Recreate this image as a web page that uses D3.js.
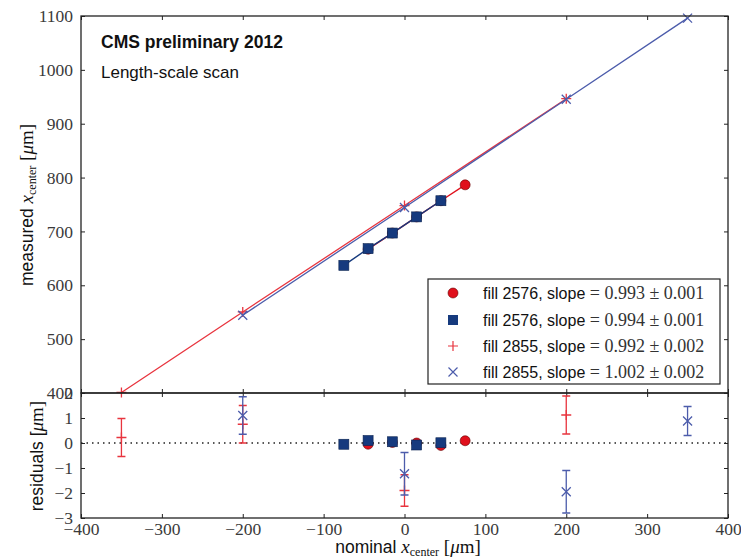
<!DOCTYPE html>
<html>
<head>
<meta charset="utf-8">
<script src="https://cdn.jsdelivr.net/npm/d3@7"></script>
<style>
  html, body { margin: 0; padding: 0; background: #fff; }
  svg { display: block; }
</style>
</head>
<body>
<svg id="chart" width="741" height="559"></svg>
<script>
// Fill 2576: circles and squares
const circNominal = [-45, -15, 15, 45, 75];
const circMeasured = [667, 697, 727, 757, 786.5];
const circResidual = [-0.05, 0.02, 0.0, -0.1, 0.09];

const sqNominal = [-75, -45, -15, 15, 45];
const sqMeasured = [637, 668, 697, 727, 757];
const sqResidual = [-0.05, 0.1, 0.05, -0.08, 0.01];

// Fill 2855: plus (red) and cross (blue) markers with residual errors
const plusNominal = [-350, -200, 0, 200];
const plusMeasured = [401, 550.5, 748, 946.5];
const plusResidual = [0.22, 0.75, -1.9, 1.12];
const plusError = [0.76, 0.75, 0.63, 0.76];

const crossNominal = [-200, 0, 200, 350];
const crossMeasured = [544.5, 744.5, 945.5, 1096];
const crossResidual = [1.1, -1.23, -1.95, 0.88];
const crossError = [0.75, 0.85, 0.85, 0.58];

const xTicks = [-400, -300, -200, -100, 0, 100, 200, 300, 400];
const yMainTicks = [400, 500, 600, 700, 800, 900, 1000, 1100];
const yResTicks = [-3, -2, -1, 0, 1, 2];

const legendLabels = ["fill 2576, slope ", "fill 2576, slope ", "fill 2855, slope ", "fill 2855, slope "];
const legendSlopes = ["= 0.993 \u00b1 0.001", "= 0.994 \u00b1 0.001", "= 0.992 \u00b1 0.002", "= 1.002 \u00b1 0.002"];

const RED = "#e0101c", NAVY = "#163a7e", LRED = "#e8343e", LBLUE = "#4c5cab";
const SERIF = "'Liberation Serif', 'DejaVu Serif', serif";
const SANS = "'Liberation Sans', Arial, sans-serif";

const svg = d3.select("#chart");
const L = 81, R = 728, T = 16, MID = 393, B = 518;

const x = d3.scaleLinear().domain([-400, 400]).range([L, R]);
const y = d3.scaleLinear().domain([400, 1100]).range([MID, T]);
const yr = d3.scaleLinear().domain([-3, 2]).range([B, MID]);

// ---- axes with inward ticks on every side ----
function styleAxis(g, labels) {
  g.select(".domain").remove();
  g.selectAll(".tick line").attr("stroke", "#222").attr("stroke-width", 1);
  g.selectAll(".tick text")
    .attr("font-family", SERIF).attr("font-size", 17.5).attr("fill", "#3a3a3a");
  if (!labels) g.selectAll(".tick text").remove();
}
const fmt = d => (d < 0 ? "\u2212" + Math.abs(d) : "" + d);

svg.append("g").attr("transform", `translate(0,${B})`)
  .call(d3.axisBottom(x).tickValues(xTicks).tickSize(-4).tickPadding(4.5).tickFormat(fmt))
  .call(g => styleAxis(g, true));
svg.append("g").attr("transform", `translate(0,${MID})`)
  .call(d3.axisTop(x).tickValues(xTicks).tickSize(-4)).call(g => styleAxis(g, false));
svg.append("g").attr("transform", `translate(0,${MID})`)
  .call(d3.axisBottom(x).tickValues(xTicks).tickSize(-4)).call(g => styleAxis(g, false));
svg.append("g").attr("transform", `translate(0,${T})`)
  .call(d3.axisTop(x).tickValues(xTicks).tickSize(-4)).call(g => styleAxis(g, false));

svg.append("g").attr("transform", `translate(${L},0)`)
  .call(d3.axisLeft(y).tickValues(yMainTicks).tickSize(-4).tickPadding(8).tickFormat(fmt))
  .call(g => styleAxis(g, true));
svg.append("g").attr("transform", `translate(${R},0)`)
  .call(d3.axisRight(y).tickValues(yMainTicks).tickSize(-4)).call(g => styleAxis(g, false));
svg.append("g").attr("transform", `translate(${L},0)`)
  .call(d3.axisLeft(yr).tickValues(yResTicks).tickSize(-4).tickPadding(8).tickFormat(fmt))
  .call(g => styleAxis(g, true));
svg.append("g").attr("transform", `translate(${R},0)`)
  .call(d3.axisRight(yr).tickValues(yResTicks).tickSize(-4)).call(g => styleAxis(g, false));

// ---- main panel ----
const main = svg.append("g");
const line = d3.line().x(d => x(d[0])).y(d => y(d[1]));
const zip = (a, b) => a.map((v, i) => [v, b[i]]);

function plusPath(cx, cy, s) { return `M${cx - s},${cy}H${cx + s}M${cx},${cy - s}V${cy + s}`; }
function crossPath(cx, cy, s) { return `M${cx - s},${cy - s}L${cx + s},${cy + s}M${cx - s},${cy + s}L${cx + s},${cy - s}`; }

main.append("path").attr("d", line(zip(circNominal, circMeasured)))
  .attr("fill", "none").attr("stroke", RED).attr("stroke-width", 1.4);
main.selectAll(".c").data(zip(circNominal, circMeasured)).join("circle")
  .attr("cx", d => x(d[0])).attr("cy", d => y(d[1])).attr("r", 5)
  .attr("fill", RED).attr("stroke", "#600").attr("stroke-width", 0.6);

main.append("path").attr("d", line(zip(sqNominal, sqMeasured)))
  .attr("fill", "none").attr("stroke", NAVY).attr("stroke-width", 1.4);
main.selectAll(".s").data(zip(sqNominal, sqMeasured)).join("rect")
  .attr("x", d => x(d[0]) - 5).attr("y", d => y(d[1]) - 5).attr("width", 10).attr("height", 10)
  .attr("fill", NAVY).attr("stroke", "#0b2350").attr("stroke-width", 0.6);

main.append("path").attr("d", line(zip(plusNominal, plusMeasured)))
  .attr("fill", "none").attr("stroke", LRED).attr("stroke-width", 1.3);
main.selectAll(".p").data(zip(plusNominal, plusMeasured)).join("path")
  .attr("d", d => plusPath(x(d[0]), y(d[1]), 5)).attr("stroke", LRED).attr("stroke-width", 1.3);

main.append("path").attr("d", line(zip(crossNominal, crossMeasured)))
  .attr("fill", "none").attr("stroke", LBLUE).attr("stroke-width", 1.3);
main.selectAll(".x").data(zip(crossNominal, crossMeasured)).join("path")
  .attr("d", d => crossPath(x(d[0]), y(d[1]), 4.5)).attr("stroke", LBLUE).attr("stroke-width", 1.3);

// ---- residual panel ----
const res = svg.append("g");
res.append("line").attr("x1", L).attr("x2", R).attr("y1", yr(0)).attr("y2", yr(0))
  .attr("stroke", "#222").attr("stroke-width", 1.4).attr("stroke-dasharray", "1.5,4");

res.selectAll(".rc").data(zip(circNominal, circResidual)).join("circle")
  .attr("cx", d => x(d[0])).attr("cy", d => yr(d[1])).attr("r", 5)
  .attr("fill", RED).attr("stroke", "#600").attr("stroke-width", 0.6);
res.selectAll(".rs").data(zip(sqNominal, sqResidual)).join("rect")
  .attr("x", d => x(d[0]) - 5).attr("y", d => yr(d[1]) - 5).attr("width", 10).attr("height", 10)
  .attr("fill", NAVY).attr("stroke", "#0b2350").attr("stroke-width", 0.6);

function errorBars(nom, val, err, color, markFn) {
  const g = res.append("g").attr("stroke", color).attr("stroke-width", 1.3).attr("fill", "none");
  nom.forEach((n, i) => {
    const cx = x(n), top = yr(val[i] + err[i]), bot = yr(val[i] - err[i]);
    g.append("path").attr("d", `M${cx},${top}V${bot}M${cx - 4},${top}H${cx + 4}M${cx - 4},${bot}H${cx + 4}`);
    g.append("path").attr("d", markFn(cx, yr(val[i]), 5));
  });
}
errorBars(plusNominal, plusResidual, plusError, LRED, plusPath);
errorBars(crossNominal, crossResidual, crossError, LBLUE, (cx, cy, s) => crossPath(cx, cy, 4.5));

// ---- frames ----
svg.append("rect").attr("x", L).attr("y", T).attr("width", R - L).attr("height", MID - T)
  .attr("fill", "none").attr("stroke", "#222").attr("stroke-width", 1.3);
svg.append("rect").attr("x", L).attr("y", MID).attr("width", R - L).attr("height", B - MID)
  .attr("fill", "none").attr("stroke", "#222").attr("stroke-width", 1.3);

// ---- annotations ----
svg.append("text").attr("x", 101).attr("y", 48).attr("font-family", SANS)
  .attr("font-weight", "bold").attr("font-size", 17.5).attr("fill", "#111").text("CMS preliminary 2012");
svg.append("text").attr("x", 101).attr("y", 78).attr("font-family", SANS)
  .attr("font-size", 17).attr("fill", "#111").text("Length-scale scan");

// ---- legend ----
const leg = svg.append("g");
leg.append("rect").attr("x", 428).attr("y", 279).attr("width", 292).attr("height", 105)
  .attr("fill", "#fff").attr("stroke", "#222").attr("stroke-width", 1.2);
const rowY = [293, 320, 346, 372];
rowY.forEach((ry, i) => {
  const mx = 453;
  if (i === 0) leg.append("circle").attr("cx", mx).attr("cy", ry).attr("r", 5).attr("fill", RED).attr("stroke", "#600").attr("stroke-width", 0.6);
  if (i === 1) leg.append("rect").attr("x", mx - 5).attr("y", ry - 5).attr("width", 10).attr("height", 10).attr("fill", NAVY);
  if (i === 2) leg.append("path").attr("d", plusPath(mx, ry, 5)).attr("stroke", LRED).attr("stroke-width", 1.2);
  if (i === 3) leg.append("path").attr("d", crossPath(mx, ry, 4.5)).attr("stroke", LBLUE).attr("stroke-width", 1.2);
  const t = leg.append("text").attr("x", 483).attr("y", ry + 6).attr("fill", "#111");
  t.append("tspan").attr("font-family", SANS).attr("font-size", 16).text(legendLabels[i]);
  t.append("tspan").attr("font-family", SERIF).attr("font-size", 18).attr("fill", "#333").text(legendSlopes[i]);
});

// ---- axis titles ----
function mathLabel(g, prefix) {
  const t = g.append("text").attr("text-anchor", "middle").attr("fill", "#111");
  t.append("tspan").attr("font-family", SANS).attr("font-size", 17.5).text(prefix);
  t.append("tspan").attr("font-family", SERIF).attr("font-style", "italic").attr("font-size", 19).text("x");
  t.append("tspan").attr("font-family", SERIF).attr("font-size", 12).attr("dy", 3).text("center");
  t.append("tspan").attr("font-family", SERIF).attr("font-size", 19).attr("dy", -3).text(" [");
  t.append("tspan").attr("font-family", SERIF).attr("font-style", "italic").attr("font-size", 19).text("\u03bc");
  t.append("tspan").attr("font-family", SERIF).attr("font-size", 19).text("m]");
  return t;
}
mathLabel(svg.append("g").attr("transform", "translate(408,553)"), "nominal ");
mathLabel(svg.append("g").attr("transform", "translate(33,205) rotate(-90)"), "measured ");

const rl = svg.append("g").attr("transform", "translate(43,456) rotate(-90)")
  .append("text").attr("text-anchor", "middle").attr("fill", "#111");
rl.append("tspan").attr("font-family", SANS).attr("font-size", 17.5).text("residuals [");
rl.append("tspan").attr("font-family", SERIF).attr("font-style", "italic").attr("font-size", 19).text("\u03bc");
rl.append("tspan").attr("font-family", SERIF).attr("font-size", 19).text("m]");
</script>
</body>
</html>
